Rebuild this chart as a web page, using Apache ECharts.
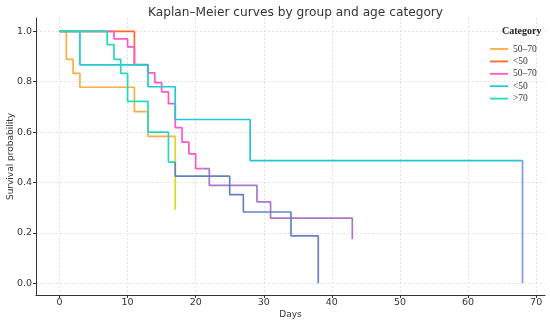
<!DOCTYPE html>
<html>
<head>
<meta charset="utf-8">
<script src="https://cdn.jsdelivr.net/npm/echarts@6/dist/echarts.min.js"></script>
<style>html,body{margin:0;padding:0;background:#fff;}#c{width:550px;height:322px;}</style>
</head>
<body>
<div id="c"></div>
<script>
// ---- data ----
const seriesNames = ['A|50–70', 'A|<50', 'B|50–70', 'B|<50', 'B|>70'];

const tA5070 = [0, 1, 2, 3, 11, 13, 17];
const sA5070 = [1, 0.889, 0.833, 0.778, 0.681, 0.583, 0.292];

const tAlt50 = [0, 11];
const sAlt50 = [1, 0.867];

const tB5070 = [0, 8, 10, 11, 13, 14, 15, 16, 17, 18, 19, 20, 22, 29, 31, 43];
const sB5070 = [1, 0.97, 0.938, 0.868, 0.835, 0.796, 0.76, 0.713, 0.618, 0.56, 0.514, 0.455, 0.389, 0.323, 0.259, 0.175];

const tBlt50 = [0, 3, 13, 17, 28, 68];
const sBlt50 = [1, 0.867, 0.78, 0.65, 0.487, 0];

const tBgt70 = [0, 7, 8, 9, 10, 13, 16, 17, 25, 27, 34, 38];
const sBgt70 = [1, 0.947, 0.889, 0.833, 0.722, 0.60, 0.481, 0.425, 0.352, 0.283, 0.188, 0];

const xTicks = [0, 10, 20, 30, 40, 50, 60, 70];
const yTicks = [0, 0.2, 0.4, 0.6, 0.8, 1.0];

// ---- styling ----
const colors = ['#ffad42', '#ff6a2b', '#fa5ac8', '#23c6d6', '#25dbb5'];
const tailColors = ['#d8d81c', null, '#a878cc', '#8598ea', '#6582c0'];
const tailStart = [17, null, 21, 68, 17];

const times = [tA5070, tAlt50, tB5070, tBlt50, tBgt70];
const survs = [sA5070, sAlt50, sB5070, sBlt50, sBgt70];

const series = [];
seriesNames.forEach((n, i) => {
  const pts = times[i].map((t, k) => [t, survs[i][k]]);
  const b = tailStart[i];
  let main = pts, tail = null;
  if (b !== null) {
    const before = pts.filter(p => p[0] < b);
    const after = pts.filter(p => p[0] >= b);
    const last = before[before.length - 1][1];
    main = before.concat([[b, last]]);
    tail = [[b, last]].concat(after);
  }
  series.push({
    name: n, type: 'line', step: 'end', symbol: 'none', showSymbol: false, z: 2 + i,
    lineStyle: { width: 1.7, color: colors[i] }, itemStyle: { color: colors[i] },
    data: main
  });
  if (tail) {
    series.push({
      name: n + '|tail', type: 'line', step: 'end', symbol: 'none', showSymbol: false, z: 2 + i,
      lineStyle: { width: 1.7, color: tailColors[i] }, itemStyle: { color: tailColors[i] },
      data: tail
    });
  }
});

const axisFont = 'DejaVu Sans';
const chart = echarts.init(document.getElementById('c'), null, { renderer: 'canvas' });
chart.setOption({
  animation: false,
  backgroundColor: '#fff',
  title: [
    { text: 'Kaplan–Meier curves by group and age category', left: 290.5, textAlign: 'center', top: 2,
      textStyle: { fontFamily: axisFont, fontSize: 12.2, fontWeight: 'normal', color: '#333' } },
    { text: 'Category', left: 497, top: 21,
      textStyle: { fontFamily: 'Liberation Serif', fontSize: 10, fontWeight: 'bold', color: '#222' } }
  ],
  legend: {
    orient: 'vertical', left: 485, top: 38,
    itemWidth: 18, itemHeight: 8, itemGap: 0.4,
    icon: 'path://M0,4 L18,4 L18,5.8 L0,5.8 Z',
    textStyle: { fontFamily: 'Liberation Serif', fontSize: 9.5, color: '#333', lineHeight: 12 },
    formatter: name => name.split('|')[1],
    data: seriesNames.map((n, i) => ({ name: n, itemStyle: { color: colors[i] } }))
  },
  grid: { left: 36, right: 5, top: 18, bottom: 27, containLabel: false, outerBoundsMode: 'none' },
  xAxis: {
    type: 'value', min: -3.45, max: 71.3,
    name: 'Days', nameLocation: 'middle', nameGap: 15, nameMoveOverlap: false,
    nameTextStyle: { fontFamily: axisFont, fontSize: 9, color: '#333' },
    axisLine: { show: true, onZero: false, lineStyle: { color: '#333', width: 1 } },
    axisTick: { show: true, length: 3, customValues: xTicks, lineStyle: { color: '#333' } },
    axisLabel: { customValues: xTicks, fontFamily: axisFont, fontSize: 9.5, color: '#333', margin: 3,
      formatter: v => String(Math.round(v)) },
    splitLine: { show: true, lineStyle: { color: '#d8d8d8', width: 0.7, type: [2, 2] } }
  },
  yAxis: {
    type: 'value', min: -0.0464, max: 1.0528,
    name: 'Survival probability', nameLocation: 'middle', nameGap: 21, nameRotate: 90, nameMoveOverlap: false,
    nameTextStyle: { fontFamily: axisFont, fontSize: 9, color: '#333' },
    axisLine: { show: true, onZero: false, lineStyle: { color: '#333', width: 1 } },
    axisTick: { show: true, length: 3, customValues: yTicks, lineStyle: { color: '#333' } },
    axisLabel: { customValues: yTicks, fontFamily: axisFont, fontSize: 9.5, color: '#333', margin: 4,
      formatter: v => v.toFixed(1) },
    splitLine: { show: true, lineStyle: { color: '#d8d8d8', width: 0.7, type: [2, 2] } }
  },
  series: series
});
</script>
</body>
</html>
